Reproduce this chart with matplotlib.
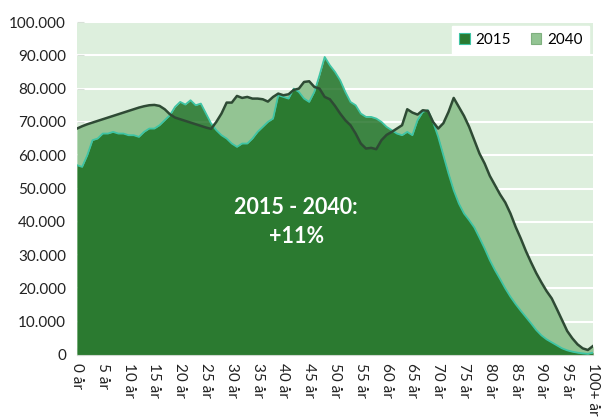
import numpy as np
import matplotlib
matplotlib.use("Agg")
import matplotlib.pyplot as plt
from matplotlib.patches import Patch
from matplotlib.ticker import FuncFormatter

plt.rcParams['font.family'] = ['Lato', 'DejaVu Sans']

ages = list(range(0, 101))
age_tick_labels = [f"{a} år" for a in range(0, 100, 5)] + ["100+ år"]

pop_2015 = [57000, 56500, 60000, 64500, 65000, 66500, 66500, 67000, 66500, 66500,
            66000, 66000, 65500, 67000, 68000, 68000, 69000, 70500, 72000, 74500,
            76000, 75200, 76500, 75000, 75500, 72500, 69500, 67500, 66000, 65000,
            63500, 62500, 63500, 63500, 65000, 67000, 68500, 70000, 71000, 78000,
            77500, 77000, 80000, 79000, 77000, 76000, 79000, 84000, 89500, 87000,
            85000, 82500, 79000, 76000, 75000, 72500, 71500, 71500, 71000, 70000,
            68500, 67500, 66500, 66000, 67000, 66000, 70500, 73000, 73500, 70000,
            65500, 60000, 54500, 49500, 45500, 42500, 40500, 38300, 35200, 32000,
            28500, 25500, 22800, 20000, 17500, 15300, 13300, 11400, 9500, 7500,
            5900, 4700, 3800, 2900, 2000, 1400, 1000, 700, 500, 350, 700]

pop_2040 = [68000, 68700, 69300, 69800, 70300, 70800, 71300, 71800, 72300, 72800,
            73300, 73800, 74300, 74700, 75000, 75100, 74800, 73800, 72300, 71300,
            70800, 70300, 69800, 69300, 68800, 68300, 67900, 70000, 72500, 75800,
            75800, 77800, 77200, 77500, 77000, 77000, 76800, 76100, 77500, 78500,
            78000, 78300, 79600, 80000, 82000, 82200, 80500, 80000, 77500, 76800,
            74800, 72500, 70500, 69000, 66500, 63500, 62000, 62200, 61800, 64500,
            66100, 67000, 68000, 69000, 73800, 72800, 72200, 73500, 73300, 70000,
            68000, 69600, 73000, 77200, 74500, 71800, 68500, 64500, 60500, 57500,
            53800, 51000, 48200, 45800, 42500, 38500, 35000, 31200, 27800, 24600,
            21800, 19200, 17000, 13800, 10500, 7200, 5000, 3200, 2000, 1500, 2700]

series_labels = ["2015", "2040"]
annotation = "2015 - 2040:\n+11%"

BG = "#ddefdd"
C2040 = "#93c493"
C2015 = "#08620f"
EDGE2015 = "#3ec4a4"
LINE2040 = "#2e4a34"

fig = plt.figure(figsize=(6.01, 4.17), dpi=100)
fig.patch.set_facecolor("white")
ax = fig.add_axes([77/601, 62/417, 516/601, 333/417])
ax.set_facecolor(BG)

x = np.array(ages)
y15 = np.array(pop_2015)
y40 = np.array(pop_2040)

ax.fill_between(x, 0, y40, color=C2040, lw=0, zorder=2)
ax.fill_between(x, 0, y15, color=C2015, alpha=0.75, lw=0, zorder=3)
ax.plot(x, y15, color=EDGE2015, lw=1.3, zorder=4)
ax.plot(x, y40, color=LINE2040, lw=1.8, zorder=5)

ax.set_xlim(0, 100)
ax.set_ylim(0, 100000)
ax.set_yticks(range(0, 100001, 10000))
ax.yaxis.set_major_formatter(FuncFormatter(lambda v, p: f"{int(v):,}".replace(",", ".")))
ax.grid(axis='y', color='white', lw=1.5, zorder=1)
ax.set_axisbelow(True)

ax.set_xticks(list(range(0, 101, 5)))
ax.set_xticklabels(age_tick_labels, rotation=-90, va='top', ha='center')

for s in ['top', 'right', 'left']:
    ax.spines[s].set_visible(False)
ax.spines['bottom'].set_color('#d0d8d0')
ax.spines['bottom'].set_zorder(6)
ax.tick_params(axis='x', direction='in', length=5, color='#d8e0d8', labelsize=11,
               labelcolor='#222222', pad=6)
ax.tick_params(axis='y', direction='in', length=5, color='#d8e0d8', labelsize=11,
               labelcolor='#222222', pad=8)
for t in ax.get_xticklines() + ax.get_yticklines():
    t.set_zorder(7)

ax.text(42.5, 40000, annotation, color='white', fontsize=15.5, fontweight='bold',
        ha='center', va='center', linespacing=1.45, zorder=8)

handles = [Patch(facecolor="#2b7a31", edgecolor=EDGE2015, lw=0.8),
           Patch(facecolor=C2040, edgecolor="#7fb07f", lw=0.8)]
leg = ax.legend(handles, series_labels, loc='upper right', ncol=2, frameon=True,
                fancybox=False, handlelength=0.7, handleheight=0.7, handletextpad=0.35,
                columnspacing=1.3, borderaxespad=0.25, fontsize=11, borderpad=0.45)
leg.get_frame().set_facecolor('white')
leg.get_frame().set_edgecolor('white')
leg.get_frame().set_alpha(1)
leg.set_zorder(9)

fig.savefig("out.png", dpi=100)
